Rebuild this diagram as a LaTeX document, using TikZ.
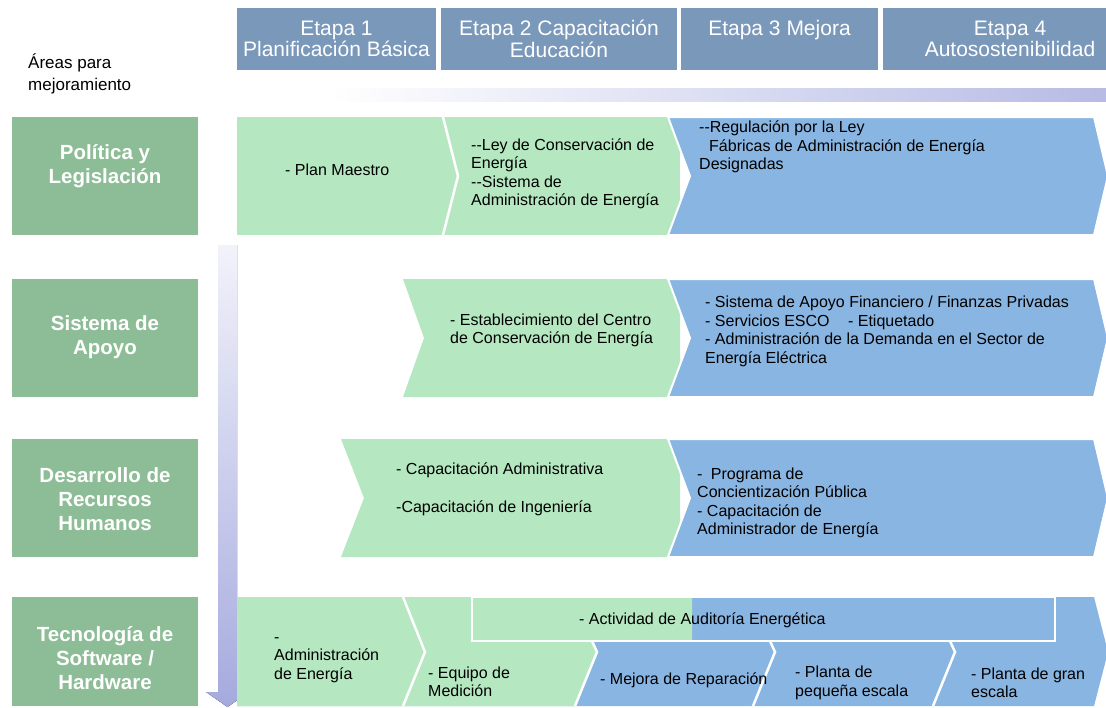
\documentclass[tikz,border=0pt]{standalone}
\usepackage{fontspec}
\setmainfont{Liberation Sans}
\definecolor{etapablue}{RGB}{122,152,186}
\definecolor{areagreen}{RGB}{141,189,150}
\definecolor{lightgreen}{RGB}{181,232,193}
\definecolor{midblue}{RGB}{137,181,226}
\definecolor{lavender}{RGB}{165,170,222}
\tikzset{
  etapa/.style={fill=etapablue,text=white,minimum height=62pt,inner sep=0pt,align=center,font=\fontsize{21}{21.5}\selectfont},
  areabox/.style={fill=areagreen,minimum width=186pt,inner sep=0pt},
  arealbl/.style={text=white,align=center,inner sep=0pt,font=\bfseries\fontsize{20.5}{24}\selectfont},
  txt/.style={anchor=west,align=left,inner sep=0pt,font=\fontsize{16}{18.5}\selectfont},
  sep/.style={white,line width=2.5pt},
  bluearrow/.style={fill=midblue,draw=white,line width=2pt},
}
\begin{document}
\begin{tikzpicture}[x=1pt,y=-1pt]
\useasboundingbox (0,0) rectangle (1106,707);
\clip (0,0) rectangle (1106,707);
\node[etapa,minimum width=199pt] (e1) at (336.5,39) {Etapa 1\\Planificación Básica};
\node[etapa,minimum width=236pt] (e2) at (559,39) {Etapa 2 Capacitación\\Educación};
\node[etapa,minimum width=197pt] (e3) at (779.5,39) {Etapa 3 Mejora\\\mbox{}};
\node[etapa,minimum width=254pt] (e4) at (1010,39) {Etapa 4\\Autosostenibilidad};
\fill[left color=white,right color=lavender!80] (330,88) rectangle (1106,101);
\node[anchor=west,align=left,inner sep=0pt,font=\fontsize{17}{22}\selectfont] (areas) at (28,74) {Áreas para\\mejoramiento};
\node[areabox,minimum height=118pt] (a1) at (105,176) {};
\node[areabox,minimum height=118pt] (a2) at (105,338) {};
\node[areabox,minimum height=118pt] (a3) at (105,498) {};
\node[areabox,minimum height=109pt] (a4) at (105,651.5) {};
\node[arealbl] (a1t) at (105,166) {Política y\\Legislación};
\node[arealbl] (a2t) at (105,337) {Sistema de\\Apoyo};
\node[arealbl] (a3t) at (105,499) {Desarrollo de\\Recursos\\Humanos};
\node[arealbl] (a4t) at (105,658) {Tecnología de\\Software /\\Hardware};
\fill[top color=lavender!15,bottom color=lavender] (218,245) -- (237,245) -- (237,692) -- (249,692) -- (227.5,707) -- (206,692) -- (218,692) -- cycle;
\fill[lightgreen] (237,117) -- (680,117) -- (680,235) -- (237,235) -- cycle;
\draw[sep] (443,117) -- (458,176) -- (443,235);
\filldraw[bluearrow] (668,117) -- (1094,117) -- (1108,176) -- (1094,235) -- (668,235) -- (690,176) -- cycle;
\fill[lightgreen] (403,279) -- (680,279) -- (680,397) -- (403,397) -- (424,338) -- cycle;
\filldraw[bluearrow] (668,279) -- (1094,279) -- (1108,338) -- (1094,397) -- (668,397) -- (690,338) -- cycle;
\fill[lightgreen] (341,439) -- (680,439) -- (680,557) -- (341,557) -- (364,498) -- cycle;
\filldraw[bluearrow] (668,439) -- (1094,439) -- (1108,498) -- (1094,557) -- (668,557) -- (690,498) -- cycle;
\fill[midblue] (237,597) -- (1094,597) -- (1108,652) -- (1094,706) -- (237,706) -- cycle;
\fill[lightgreen] (237,597) -- (692,597) -- (692,641) -- (592,641) -- (597,652) -- (575,706) -- (237,706) -- cycle;
\draw[sep] (403,597) -- (425,652) -- (403,706);
\draw[sep] (592,641) -- (597,652) -- (575,706);
\draw[sep] (770,641) -- (775,652) -- (753,706);
\draw[sep] (950,641) -- (955,652) -- (933,706);
\draw[sep] (472,597) rectangle (1055,641);
\node[txt] (plan) at (285,170) {- Plan Maestro};
\node[txt] (ley) at (471,174) {-{}-Ley de Conservación de\\Energía\\-{}-Sistema de\\Administración de Energía};
\node[txt] (regul) at (699,147) {-{}-Regulación por la Ley\\\hspace{10pt}Fábricas de Administración de Energía\\Designadas};
\node[txt] (centro) at (450,330.5) {- Establecimiento del Centro\\de Conservación de Energía};
\node[txt] (apoyo) at (705,331.5) {- Sistema de Apoyo Financiero / Finanzas Privadas\\- Servicios ESCO\hspace{14pt} - Etiquetado\\- Administración de la Demanda en el Sector de\\Energía Eléctrica};
\node[txt] (capac) at (396,489.5) {- Capacitación Administrativa\\[20pt]-Capacitación de Ingeniería};
\node[txt] (progr) at (697,503) {-\hspace{4pt} Programa de\\Concientización Pública\\- Capacitación de\\Administrador de Energía};
\node[txt] (audit) at (579,620) {- Actividad de Auditoría Energética};
\node[txt] (admin) at (274,660) {-\\Administración\\de Energía};
\node[txt] (equipo) at (428,682) {- Equipo de\\Medición};
\node[txt] (mejora) at (600,680) {- Mejora de Reparación};
\node[txt] (pequena) at (795,683) {- Planta de\\pequeña escala};
\node[txt] (gran) at (971,683) {- Planta de gran\\escala};
\end{tikzpicture}
\end{document}
